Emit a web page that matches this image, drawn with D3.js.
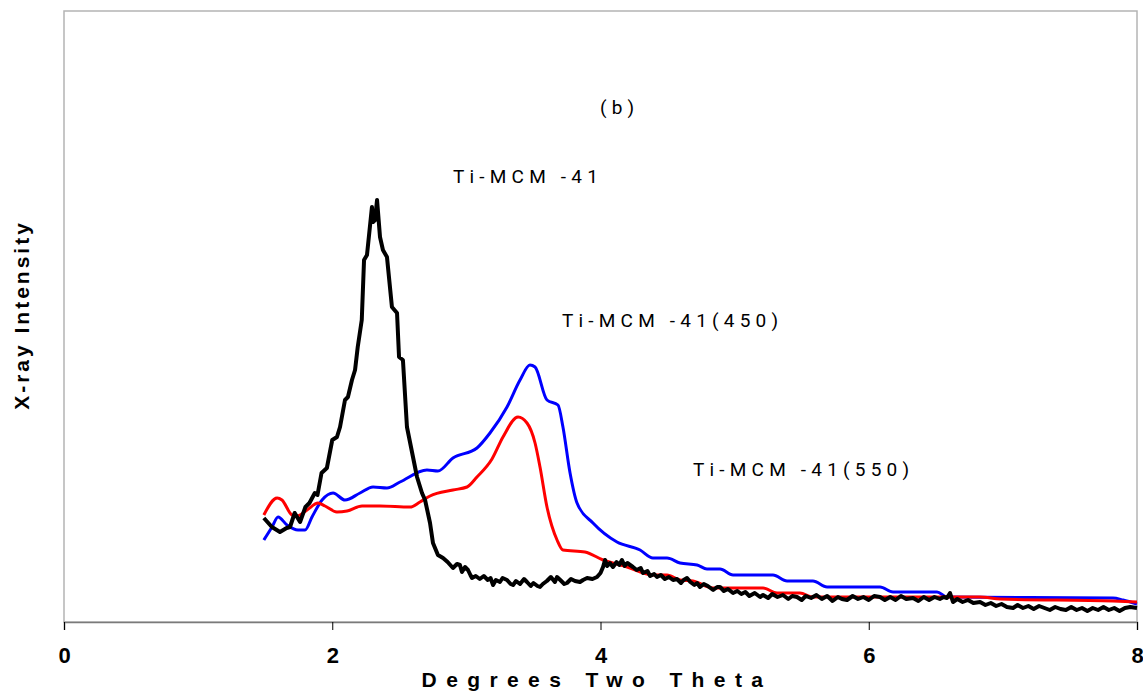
<!DOCTYPE html>
<html>
<head>
<meta charset="utf-8">
<script src="https://cdn.jsdelivr.net/npm/d3@7"></script>
<style>
  html, body { margin: 0; padding: 0; background: #fff; }
  svg { display: block; }
</style>
</head>
<body>
<svg id="chart" width="1143" height="693"></svg>
<script>
// ---- data (intensity in arbitrary units) ----
const xTicks = [0, 2, 4, 6, 8];
const xTitle = "Degrees Two Theta";
const yTitle = "X-ray Intensity";
const panelLabel = "(b)";
const seriesNames = ["Ti-MCM -41", "Ti-MCM -41(450)", "Ti-MCM -41(550)"];

const tiMCM41 = [
  [1.49,104],[1.55,95],[1.61,90],[1.66,94],[1.685,95],[1.72,109],[1.76,100],[1.80,115],[1.83,119],
  [1.87,129],[1.89,127],[1.92,149],[1.96,154],[2.00,182],[2.035,185],[2.058,195],[2.095,222],
  [2.117,225],[2.147,242],[2.17,252],[2.19,275],[2.22,302],[2.237,362],[2.259,367],[2.296,415],
  [2.304,400],[2.319,402],[2.334,422],[2.356,385],[2.378,372],[2.408,365],[2.445,315],[2.483,309],
  [2.498,265],[2.527,262],[2.557,195],[2.602,165],[2.632,145],[2.669,129],[2.692,122],[2.729,99],
  [2.751,79],[2.788,67],[2.826,64],[2.86,60],[2.90,54],[2.93,58],[2.952,57],[2.967,50],[2.99,55],
  [3.012,52],[3.03,47],[3.042,44],[3.07,46],[3.10,43],[3.13,46],[3.16,42],[3.18,44],[3.199,37],
  [3.22,42],[3.25,40],[3.27,44],[3.303,42],[3.33,38],[3.348,37],[3.37,41],[3.40,38],[3.43,43],
  [3.452,40],[3.48,36],[3.50,39],[3.53,36],[3.549,35],[3.57,38],[3.60,41],[3.63,45],[3.66,40],
  [3.676,45],[3.70,42],[3.73,38],[3.75,39],[3.78,43],[3.81,41],[3.847,40],[3.87,42],[3.90,44],
  [3.94,43],[3.974,45],[4.00,49],[4.019,55],[4.034,62],[4.05,56],[4.07,59],[4.093,55],[4.12,60],
  [4.14,57],[4.16,62],[4.18,56],[4.20,59],[4.242,55],[4.27,52],[4.30,54],[4.317,49],[4.35,51],
  [4.37,46],[4.40,48],[4.421,45],[4.45,47],[4.48,43],[4.51,45],[4.541,42],[4.57,43],[4.60,39],
  [4.62,42],[4.645,44],[4.67,40],[4.70,37],[4.72,39],[4.742,35],[4.77,38],[4.80,36],[4.84,32],
  [4.87,35],[4.891,35],[4.92,31],[4.95,33],[4.988,29],[5.02,31],[5.05,28],[5.08,30],[5.11,26],
  [5.15,29],[5.19,25],[5.212,27],[5.25,24],[5.28,28],[5.32,25],[5.36,27],[5.40,23],[5.43,26],
  [5.465,25],[5.50,22],[5.53,26],[5.57,24],[5.61,27],[5.65,23],[5.69,26],[5.73,21],[5.77,25],
  [5.80,23],[5.838,22],[5.88,26],[5.92,23],[5.96,25],[6.00,22],[6.04,26],[6.084,25],[6.12,22],
  [6.16,25],[6.20,22],[6.24,26],[6.28,23],[6.33,24],[6.37,21],[6.41,25],[6.45,22],[6.49,25],
  [6.53,23],[6.56,25],[6.583,24],[6.606,29],[6.628,20],[6.66,23],[6.70,20],[6.74,22],[6.78,19],
  [6.83,20],[6.87,17],[6.91,19],[6.95,16],[6.99,18],[7.03,15],[7.076,14],[7.11,17],[7.15,14],
  [7.19,16],[7.23,13],[7.27,16],[7.31,14],[7.35,12],[7.39,15],[7.43,13],[7.47,12],[7.51,15],
  [7.55,12],[7.59,14],[7.63,11],[7.67,14],[7.71,12],[7.75,15],[7.79,12],[7.83,14],[7.87,11],
  [7.91,14],[7.95,15],[8.00,14]
];

const tiMCM41_450 = [
  [1.49,82],[1.551,95],[1.596,105],[1.663,97],[1.745,92],[1.797,92],[1.849,105],[1.924,122],
  [2.006,129],[2.095,122],[2.207,129],[2.304,135],[2.408,134],[2.505,140],[2.706,152],[2.788,151],
  [2.90,164],[3.079,174],[3.176,189],[3.303,215],[3.40,242],[3.474,257],[3.512,255],[3.601,222],
  [3.683,217],[3.720,195],[3.773,149],[3.825,119],[3.944,99],[4.123,80],[4.295,72],[4.391,64],
  [4.496,64],[4.593,59],[4.720,57],[4.794,53],[4.891,53],[4.988,47],[5.286,47],[5.391,41],
  [5.584,41],[5.689,35],[6.084,35],[6.181,30],[6.509,30],[6.583,25],[7.821,24],[7.896,22],[8.0,18]
];

const tiMCM41_550 = [
  [1.49,107],[1.589,124],[1.625,122],[1.70,107],[1.737,106],[1.812,112],[1.894,119],[1.946,116],
  [2.035,110],[2.11,111],[2.222,116],[2.356,116],[2.58,115],[2.654,120],[2.729,126],[2.90,132],
  [3.005,135],[3.079,145],[3.191,163],[3.273,185],[3.385,205],[3.452,199],[3.512,179],[3.549,155],
  [3.601,115],[3.676,82],[3.720,72],[3.884,70],[4.019,62],[4.198,55],[4.391,47],[4.496,47],
  [4.593,42],[4.690,41],[4.839,34],[4.943,34],[5.212,34],[5.316,29],[5.487,29],[5.584,25],
  [6.830,25],[6.979,23],[7.821,21],[8.0,20]
];

// ---- layout ----
const svg = d3.select("#chart");
const L = 64, R = 1137, T = 11, B = 622;
const x = d3.scaleLinear().domain([0, 8]).range([L, R]);
const y = d3.scaleLinear().domain([0, 611]).range([B, T]);

// frame
svg.append("rect").attr("x", L).attr("y", T).attr("width", R - L).attr("height", B - T)
  .attr("fill", "none").attr("stroke", "#b4b4b4").attr("stroke-width", 1.5);

// x axis
const xAxis = d3.axisBottom(x).tickValues(xTicks).tickSize(8).tickPadding(17).tickFormat(d3.format("d"));
const gx = svg.append("g").attr("transform", `translate(0,${B})`).call(xAxis);
gx.select(".domain").attr("stroke", "#7a7a7a").attr("stroke-width", 1.6);
gx.selectAll(".tick line").attr("stroke", "#000").attr("stroke-width", 1);
gx.selectAll(".tick text")
  .attr("font-family", "'Liberation Sans', Arial, sans-serif")
  .attr("font-weight", "bold").attr("font-size", 22).attr("fill", "#000");

// lines
const lineSmooth = d3.line().x(d => x(d[0])).y(d => y(d[1])).curve(d3.curveMonotoneX);
const lineRaw = d3.line().x(d => x(d[0])).y(d => y(d[1])).curve(d3.curveLinear);

svg.append("path").datum(tiMCM41_450).attr("d", lineSmooth)
  .attr("fill", "none").attr("stroke", "#0000ff").attr("stroke-width", 3).attr("stroke-linejoin", "round");
svg.append("path").datum(tiMCM41_550).attr("d", lineSmooth)
  .attr("fill", "none").attr("stroke", "#ff0000").attr("stroke-width", 3).attr("stroke-linejoin", "round");
svg.append("path").datum(tiMCM41).attr("d", lineRaw)
  .attr("fill", "none").attr("stroke", "#000").attr("stroke-width", 4).attr("stroke-linejoin", "round");

// annotations
const annFont = "Roboto, 'Liberation Sans', Arial, sans-serif";
const ann = [
  { t: panelLabel, px: 600, py: 114 },
  { t: seriesNames[0], px: 453, py: 183 },
  { t: seriesNames[1], px: 562, py: 327 },
  { t: seriesNames[2], px: 693, py: 476 }
];
svg.selectAll("text.ann").data(ann).enter().append("text")
  .attr("class", "ann").attr("x", d => d.px).attr("y", d => d.py)
  .attr("font-family", annFont).attr("font-size", 19).attr("letter-spacing", "5.2px")
  .attr("fill", "#000").text(d => d.t);

// axis titles
svg.append("text").attr("x", 597).attr("y", 687).attr("text-anchor", "middle")
  .attr("font-family", "'Liberation Sans', Arial, sans-serif").attr("font-weight", "bold")
  .attr("font-size", 21).attr("letter-spacing", "9.4px").attr("fill", "#000").text(xTitle);

svg.append("text").attr("transform", "translate(29,315) rotate(-90)").attr("text-anchor", "middle")
  .attr("font-family", "'Liberation Sans', Arial, sans-serif").attr("font-weight", "bold")
  .attr("font-size", 21).attr("letter-spacing", "3px").attr("fill", "#000").text(yTitle);
</script>
</body>
</html>
